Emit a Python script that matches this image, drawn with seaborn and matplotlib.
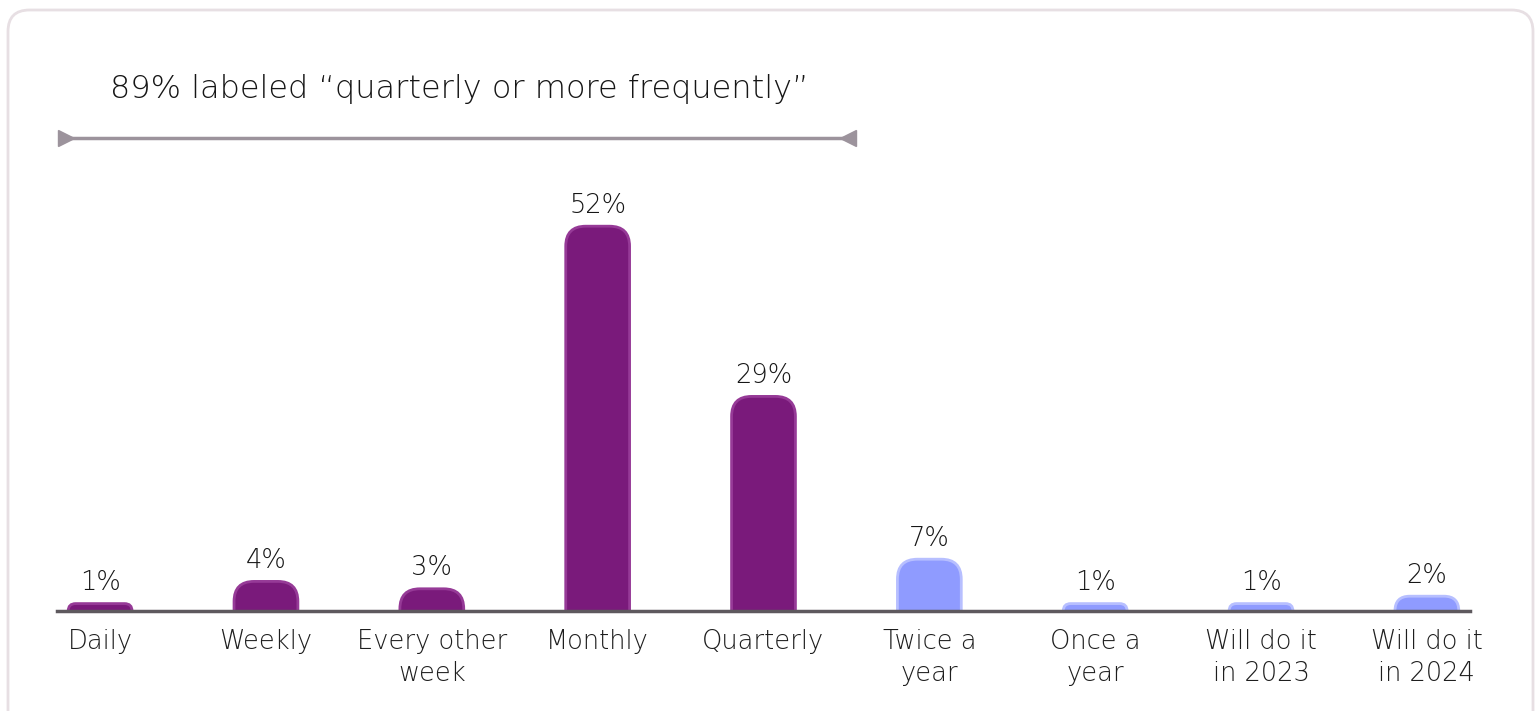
import numpy as np
import pandas as pd
import seaborn as sns
import matplotlib.pyplot as plt
from matplotlib.path import Path
from matplotlib.patches import PathPatch, FancyBboxPatch
from matplotlib.lines import Line2D

# data
categories = ["Daily", "Weekly", "Every other\nweek", "Monthly", "Quarterly",
              "Twice a\nyear", "Once a\nyear", "Will do it\nin 2023", "Will do it\nin 2024"]
values = [1, 4, 3, 52, 29, 7, 1, 1, 2]
groups = ["frequent"] * 5 + ["less"] * 4
note = "89% labeled \u201cquarterly or more frequently\u201d"

fill = {"frequent": "#7A1A7B", "less": "#8F9BFF"}
edge = {"frequent": "#963A97", "less": "#B7BFFF"}

df = pd.DataFrame({"cat": categories, "val": values, "grp": groups})

sns.set_theme(style="white")
plt.rcParams["font.family"] = ["DejaVu Sans"]
FW = "light"

W, H = 1537, 711
fig = plt.figure(figsize=(W / 100, H / 100), dpi=100)
fig.patch.set_facecolor("white")

# card outline
card = FancyBboxPatch((8 / W, -30 / H), 1525 / W, (H - 10 + 30) / H,
                      boxstyle="round,pad=0,rounding_size=0.014",
                      mutation_aspect=W / H, transform=fig.transFigure,
                      facecolor="white", edgecolor="#E7DFE3", linewidth=2, zorder=0)
fig.add_artist(card)

# axes: baseline at y=611 px, 7.4 px per percent
px_per_unit = 7.4
ax_bottom = (H - 611) / H
ax_top = (H - 180) / H
ax = fig.add_axes([57 / W, ax_bottom, (1470 - 57) / W, ax_top - ax_bottom])
ax.set_facecolor("none")

sns.barplot(data=df, x="cat", y="val", hue="grp", palette=fill, dodge=False,
            width=0.385, legend=False, ax=ax)

ax.set_xlim(-0.26, 8.26)
ax.set_ylim(0, (611 - 180) / px_per_unit)

# replace rectangles with top-rounded bars
r_px = 20
ry_full = r_px / px_per_unit
rx_full = r_px / 165.75
bars = list(ax.patches)
for p in bars:
    x0, w, h = p.get_x(), p.get_width(), p.get_height()
    if np.isnan(h) or h == 0:
        p.remove()
        continue
    grp = "frequent" if p.get_facecolor()[0] < 0.6 else "less"
    ry = min(ry_full, h)
    rx = rx_full * ry / ry_full
    x1 = x0 + w
    verts = [(x0, -1), (x0, h - ry), (x0, h), (x0 + rx, h), (x1 - rx, h),
             (x1, h), (x1, h - ry), (x1, -1), (x0, -1)]
    codes = [Path.MOVETO, Path.LINETO, Path.CURVE3, Path.CURVE3, Path.LINETO,
             Path.CURVE3, Path.CURVE3, Path.LINETO, Path.CLOSEPOLY]
    pp = PathPatch(Path(verts, codes), facecolor=fill[grp], edgecolor=edge[grp],
                   linewidth=2, zorder=2)
    p.remove()
    ax.add_patch(pp)

# value labels
for i, v in enumerate(values):
    ax.annotate(f"{v}%", (i, v), xytext=(0, 6), textcoords="offset points",
                ha="center", va="bottom", fontsize=18.5, color="#161616",
                fontweight=FW)

# axis styling
for s in ["top", "right", "left"]:
    ax.spines[s].set_visible(False)
ax.spines["bottom"].set_color("#5E595E")
ax.spines["bottom"].set_linewidth(2.5)
ax.spines["bottom"].set_zorder(3)
ax.set_yticks([])
ax.set_xlabel("")
ax.set_ylabel("")
ax.tick_params(axis="x", length=0, pad=13)
for lbl in ax.get_xticklabels():
    lbl.set_fontsize(18.5)
    lbl.set_color("#1E1E1E")
    lbl.set_linespacing(1.35)
    lbl.set_verticalalignment("top")
    lbl.set_fontweight(FW)

# annotation bracket
fig.text(110 / W, 1 - 89 / H, note, ha="left", va="center", fontsize=23,
         color="#161616", fontweight=FW)
y_br = 1 - 138 / H
fig.add_artist(Line2D([62 / W, 852 / W], [y_br, y_br], color="#9C939C",
                      linewidth=2.5, transform=fig.transFigure))
fig.add_artist(Line2D([66 / W], [y_br], marker=">", markersize=11, color="#9C939C",
                      linestyle="none", transform=fig.transFigure))
fig.add_artist(Line2D([848 / W], [y_br], marker="<", markersize=11, color="#9C939C",
                      linestyle="none", transform=fig.transFigure))

fig.savefig("out.png", dpi=100, facecolor="white")
